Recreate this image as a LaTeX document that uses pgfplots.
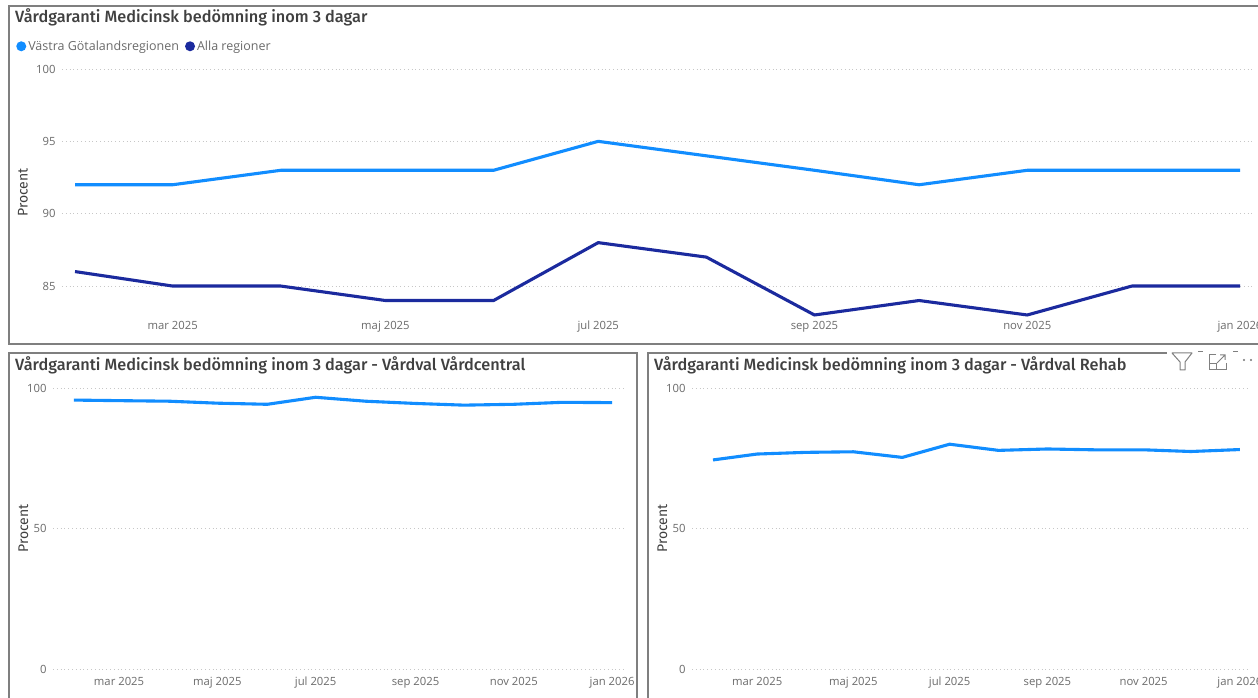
\documentclass[border=0pt]{standalone}
\usepackage{fontspec}
\setmainfont{Open Sans}
\newfontfamily\titlefont{Fira Sans Medium}
\newfontfamily\labelfont{Fira Sans}
\usepackage{pgfplots}
\pgfplotsset{compat=1.18}
\definecolor{lb}{HTML}{118DFF}
\definecolor{db}{HTML}{1B2A9E}
\definecolor{tick}{HTML}{6B6B6B}
\definecolor{frame}{HTML}{7F7F7F}
\definecolor{ttl}{HTML}{404040}
\pgfplotsset{pbi/.style={
  scale only axis,
  axis line style={draw=none},
  major tick length=0pt,
  ymajorgrids=true,
  grid style={line width=0.8pt,dash pattern=on 0.8pt off 3pt,draw=black!22},
  clip=false,
  xtick={28,89,150,212,273,334},
  xticklabels={mar 2025,maj 2025,jul 2025,sep 2025,nov 2025,jan 2026},
  tick label style={font=\fontsize{11.3}{13}\selectfont,text=tick},
  /pgf/number format/assume math mode=true,
  ylabel={Procent},
  ylabel style={font=\labelfont\fontsize{14}{16}\selectfont,text=ttl,at={(axis description cs:0,0.5)},yshift=39pt,anchor=center},
  y tick label style={anchor=east,xshift=-3pt},
  every axis plot/.append style={line width=3.1pt,line join=round,no markers},
}}
\begin{document}
\begin{tikzpicture}[x=1pt,y=1pt]
\useasboundingbox (0,0) rectangle (1258,697);
\clip (0,0) rectangle (1258,697);
\fill[white] (0,0) rectangle (1258,697);
% top
\begin{axis}[pbi,at={(62pt,381pt)},anchor=south west,width=1193pt,height=247pt,
  xmin=-3.73,xmax=338.3,ymin=82.93,ymax=100,ytick={85,90,95,100},
  x tick label style={anchor=base,yshift=-14pt},
  legend columns=2,
  legend style={at={(axis cs:-16.9,101.57)},anchor=west,draw=none,fill=none,font=\fontsize{12.5}{14}\selectfont,text=tick,inner sep=0pt,
    /tikz/every even column/.style={column sep=4pt}},
  legend image code/.code={\fill[#1,draw=none] (0.13cm,0) circle (5pt);},
  ]
\addplot[lb] coordinates {(0,92)(28,92)(59,93)(89,93)(120,93)(150,95)(181,94)(212,93)(242,92)(273,93)(303,93)(334,93)};
\addlegendentry{Västra Götalandsregionen}
\addplot[db] coordinates {(0,86)(28,85)(59,85)(89,84)(120,84)(150,88)(181,87)(212,83)(242,84)(273,83)(303,85)(334,85)};
\addlegendentry{Alla regioner}
\end{axis}
% bottom left
\begin{axis}[pbi,at={(53pt,28pt)},anchor=south west,width=572pt,height=281pt,
  xmin=-13,xmax=342,ymin=0,ymax=100,ytick={0,50,100},
  x tick label style={anchor=base,yshift=-16pt},
  ylabel style={yshift=-9.5pt}]
\addplot[lb] coordinates {(0,95.7)(28,95.5)(59,95.3)(89,94.6)(120,94.2)(150,96.7)(181,95.3)(212,94.5)(242,93.9)(273,94.2)(303,94.9)(334,94.8)};
\end{axis}
% bottom right
\begin{axis}[pbi,at={(692pt,28pt)},anchor=south west,width=558pt,height=281pt,
  xmin=-13.3,xmax=340.4,ymin=0,ymax=100,ytick={0,50,100},
  x tick label style={anchor=base,yshift=-16pt},
  ylabel style={yshift=-9.5pt}]
\addplot[lb] coordinates {(0,74.4)(28,76.5)(59,77.1)(89,77.3)(120,75.3)(150,80)(181,77.8)(212,78.3)(242,78)(273,78)(303,77.4)(334,78.1)};
\end{axis}
% frames
\draw[frame,line width=1.5pt] (9,691) rectangle (1270,353);
\draw[frame,line width=1.5pt] (9,-10) -- (9,344) -- (637,344) -- (637,-10);
\draw[frame,line width=1.5pt] (648,-10) -- (648,344) -- (1167,344);
\draw[frame,line width=1pt] (1198,345) -- (1203,345) (1233,345) -- (1238,345);
% titles
\node[anchor=base west,inner sep=0pt,text=ttl,font=\titlefont\fontsize{16.3}{18}\selectfont] at (15,674.5) {Vårdgaranti Medicinsk bedömning inom 3 dagar};
\node[anchor=base west,inner sep=0pt,text=ttl,font=\titlefont\fontsize{16.3}{18}\selectfont] at (15,326.5) {Vårdgaranti Medicinsk bedömning inom 3 dagar - Vårdval Vårdcentral};
\node[anchor=base west,inner sep=0pt,text=ttl,font=\titlefont\fontsize{16.3}{18}\selectfont] at (654,326.5) {Vårdgaranti Medicinsk bedömning inom 3 dagar - Vårdval Rehab};
% header icons
\draw[black!50,line width=1pt,line join=round] (1172,344) -- (1192,344) -- (1185,335) -- (1185,327) -- (1180,327) -- (1180,335) -- cycle;
\draw[black!50,line width=1pt] (1216,342) -- (1209,342) -- (1209,327) -- (1226,327) -- (1226,334);
\draw[black!50,line width=1pt] (1209,333) -- (1216,333) -- (1216,327);
\draw[black!50,line width=1pt] (1217,334) -- (1225,342) (1220,342) -- (1225,342) -- (1225,337);
\fill[black!55] (1244,337) circle (1.2pt) (1251,337) circle (1.2pt);
\end{tikzpicture}
\end{document}
